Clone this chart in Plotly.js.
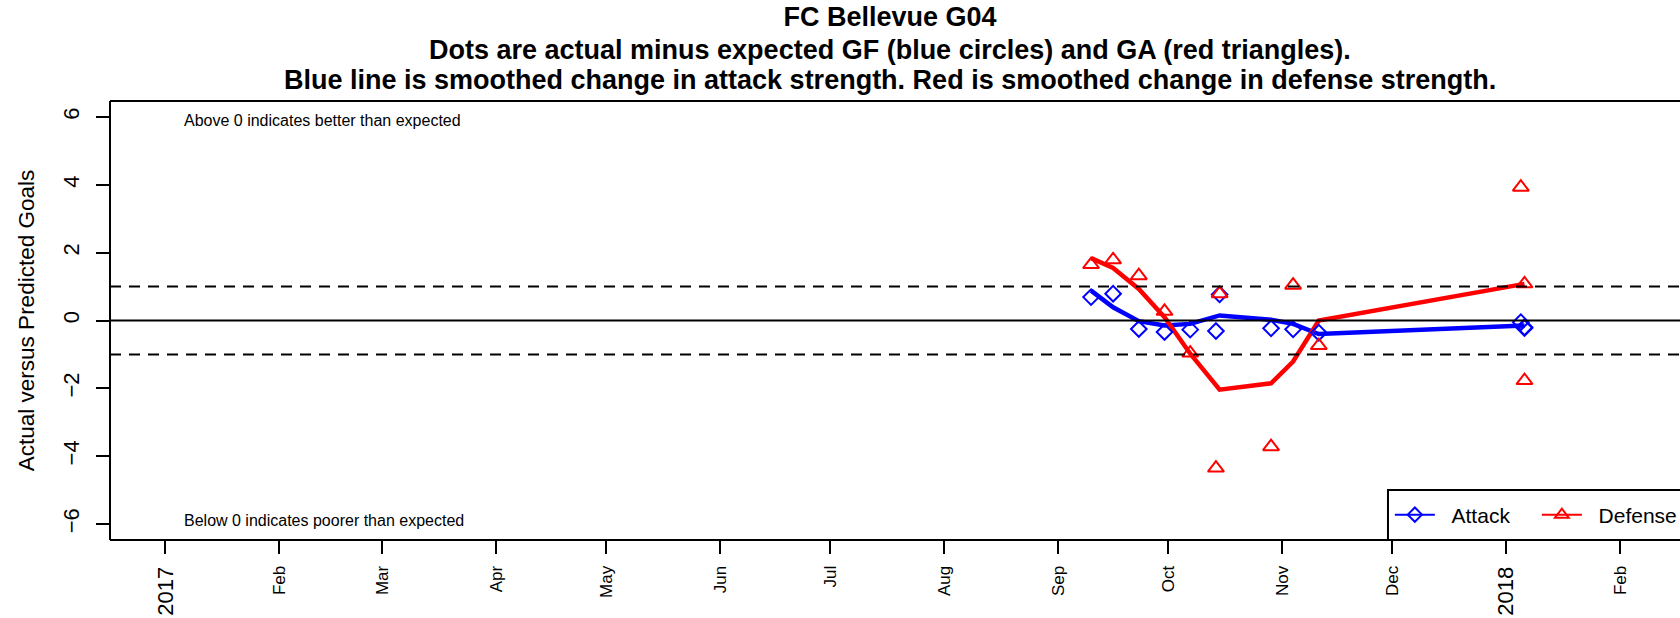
<!DOCTYPE html>
<html>
<head>
<meta charset="utf-8">
<script src="https://cdn.plot.ly/plotly-3.0.1.min.js"></script>
<style>html,body{margin:0;padding:0;background:#fff;overflow:hidden;}#chart{width:1680px;height:618px;}</style>
</head>
<body>
<div id="chart"></div>
<script>
// ---- data ----
const gameDates = ['2017-09-10','2017-09-16','2017-09-23','2017-09-30','2017-10-07','2017-10-14','2017-10-15','2017-10-29','2017-11-04','2017-11-11','2018-01-05','2018-01-06','2018-01-06'];
const attackResid = [0.69,0.79,-0.25,-0.34,-0.27,-0.31,0.77,-0.23,-0.26,-0.36,-0.05,-0.20,-0.22];
const defenseResid = [1.65,1.79,1.32,0.27,-0.96,-4.35,0.79,-3.72,1.04,-0.74,3.93,1.08,-1.77];
const smoothDates = ['2017-09-10','2017-09-16','2017-09-23','2017-09-30','2017-10-07','2017-10-15','2017-10-29','2017-11-04','2017-11-11','2018-01-06'];
const attackSmooth = [0.88,0.39,-0.02,-0.15,-0.10,0.15,0.02,-0.10,-0.40,-0.15];
const defenseSmooth = [1.84,1.55,0.93,0.10,-0.98,-2.04,-1.85,-1.21,0.00,1.08];
const monthTickDates = ['2017-02-01','2017-03-01','2017-04-01','2017-05-01','2017-06-01','2017-07-01','2017-08-01','2017-09-01','2017-10-01','2017-11-01','2017-12-01','2018-02-01'];
const monthTickLabels = ['Feb','Mar','Apr','May','Jun','Jul','Aug','Sep','Oct','Nov','Dec','Feb'];
const yearTickDates = ['2017-01-01','2018-01-01'];
const yearTickLabels = ['2017','2018'];
const yTicks = [-6,-4,-2,0,2,4,6];
const refLevels = [-1, 0, 1];
const refDash = ['11px,8px', 'solid', '11px,8px'];
const seriesNames = ['Attack', 'Defense'];
const titleLines = [
  'FC Bellevue G04',
  'Dots are actual minus expected GF (blue circles) and GA (red triangles).',
  'Blue line is smoothed change in attack strength. Red is smoothed change in defense strength.'
];
const noteTexts = ['Above 0 indicates better than expected', 'Below 0 indicates poorer than expected'];

const FONT = 'Liberation Sans, Arial, Helvetica, sans-serif';
const BLUE = '#0000FF', RED = '#FF0000';
const NBSP = '\u00A0\u00A0';

const traces = [
  {x: smoothDates, y: attackSmooth, type: 'scatter', mode: 'lines', line: {color: BLUE, width: 4.5}, showlegend: false, hoverinfo: 'skip'},
  {x: smoothDates, y: defenseSmooth, type: 'scatter', mode: 'lines', line: {color: RED, width: 4.5}, showlegend: false, hoverinfo: 'skip'},
  {x: gameDates, y: attackResid, type: 'scatter', mode: 'markers', marker: {symbol: 'diamond-open', size: 12, color: BLUE, line: {width: 2, color: BLUE}}, showlegend: false},
  {x: gameDates, y: defenseResid, type: 'scatter', mode: 'markers', marker: {symbol: 'triangle-up-open', size: 14, color: RED, line: {width: 2, color: RED}}, showlegend: false},
  // legend entries
  {x: [null], y: [null], xaxis: 'x2', type: 'scatter', mode: 'lines+markers', name: NBSP + seriesNames[0], line: {color: BLUE, width: 2}, marker: {symbol: 'diamond-open', size: 11, color: BLUE, line: {width: 2, color: BLUE}}},
  {x: [null], y: [null], xaxis: 'x2', type: 'scatter', mode: 'lines+markers', name: NBSP + seriesNames[1], line: {color: RED, width: 2}, marker: {symbol: 'triangle-up-open', size: 12, color: RED, line: {width: 2, color: RED}}}
];

const xRange = ['2016-12-16 22:00', '2018-02-17 08:00'];

const shapes = refLevels.map((v, i) => ({
  type: 'line', xref: 'paper', x0: 0, x1: 1, yref: 'y', y0: v, y1: v,
  line: {color: '#000', width: 2, dash: refDash[i]}
}));
// plot frame (left, top, bottom; the right side lies beyond the picture)
shapes.push({type: 'line', xref: 'paper', yref: 'paper', x0: 0, x1: 0, y0: 0, y1: 1, line: {color: '#000', width: 2}});
shapes.push({type: 'line', xref: 'paper', yref: 'paper', x0: 0, x1: 1.01, y0: 1, y1: 1, line: {color: '#000', width: 2}});
shapes.push({type: 'line', xref: 'paper', yref: 'paper', x0: 0, x1: 1.01, y0: 0, y1: 0, line: {color: '#000', width: 2}});
// legend box
shapes.push({type: 'rect', xref: 'paper', yref: 'paper', x0: 0.8140, x1: 1.05, y0: 0, y1: 0.114, layer: 'above', line: {color: '#000', width: 2}, fillcolor: '#fff'});

const layout = {
  width: 1680, height: 618,
  margin: {l: 110, r: 0, t: 101, b: 78, pad: 0, autoexpand: false},
  paper_bgcolor: '#fff', plot_bgcolor: '#fff',
  font: {family: FONT, color: '#000'},
  title: {
    text: '<b>' + titleLines[0] + '</b>',
    font: {family: FONT, size: 27, color: '#000'},
    x: 0.5298, xanchor: 'center', xref: 'container',
    y: 0.9725, yanchor: 'middle', yref: 'container'
  },
  xaxis: {
    type: 'date', range: xRange, tickmode: 'array', tickvals: monthTickDates, ticktext: monthTickLabels,
    tickangle: -90, tickfont: {size: 17, family: FONT}, ticks: 'outside', ticklen: 13, tickwidth: 2, tickcolor: '#000',
    showgrid: false, zeroline: false, showline: false, ticklabelstandoff: 5
  },
  xaxis2: {
    type: 'date', overlaying: 'x', anchor: 'y', side: 'bottom', matches: 'x', range: xRange,
    tickmode: 'array', tickvals: yearTickDates, ticktext: yearTickLabels,
    tickangle: -90, tickfont: {size: 22, family: FONT}, ticks: 'outside', ticklen: 13, tickwidth: 2, tickcolor: '#000',
    showgrid: false, zeroline: false, showline: false, ticklabelstandoff: 4
  },
  yaxis: {
    range: [-6.47, 6.47], tickmode: 'array', tickvals: yTicks, tickangle: -90,
    tickfont: {size: 22, family: FONT}, ticks: 'outside', ticklen: 13, tickwidth: 2, tickcolor: '#000',
    showgrid: false, zeroline: false, showline: false, ticklabelstandoff: 8,
    title: {text: 'Actual versus Predicted Goals', font: {size: 22.5, family: FONT}, standoff: 18}
  },
  shapes: shapes,
  annotations: [
    {text: '<b>' + titleLines[1] + '</b>', xref: 'paper', yref: 'paper', x: 0.4968, y: 1.1173, xanchor: 'center', yanchor: 'middle', showarrow: false, font: {size: 27, family: FONT}},
    {text: '<b>' + titleLines[2] + '</b>', xref: 'paper', yref: 'paper', x: 0.4968, y: 1.0488, xanchor: 'center', yanchor: 'middle', showarrow: false, font: {size: 27, family: FONT}},
    {text: noteTexts[0], xref: 'x', yref: 'y', x: '2017-01-05 12:00', y: 5.9, xanchor: 'left', yanchor: 'middle', showarrow: false, font: {size: 16, family: FONT}},
    {text: noteTexts[1], xref: 'x', yref: 'y', x: '2017-01-05 12:00', y: -5.9, xanchor: 'left', yanchor: 'middle', showarrow: false, font: {size: 16, family: FONT}}
  ],
  legend: {
    orientation: 'h', x: 0.8152, xanchor: 'left', y: 0.057, yanchor: 'middle',
    borderwidth: 0, bgcolor: 'rgba(0,0,0,0)', font: {size: 21, family: FONT},
    itemwidth: 40, entrywidth: 92, entrywidthmode: 'pixels'
  },
  showlegend: true
};

Plotly.newPlot('chart', traces, layout, {staticPlot: true, displayModeBar: false});
</script>
</body>
</html>
